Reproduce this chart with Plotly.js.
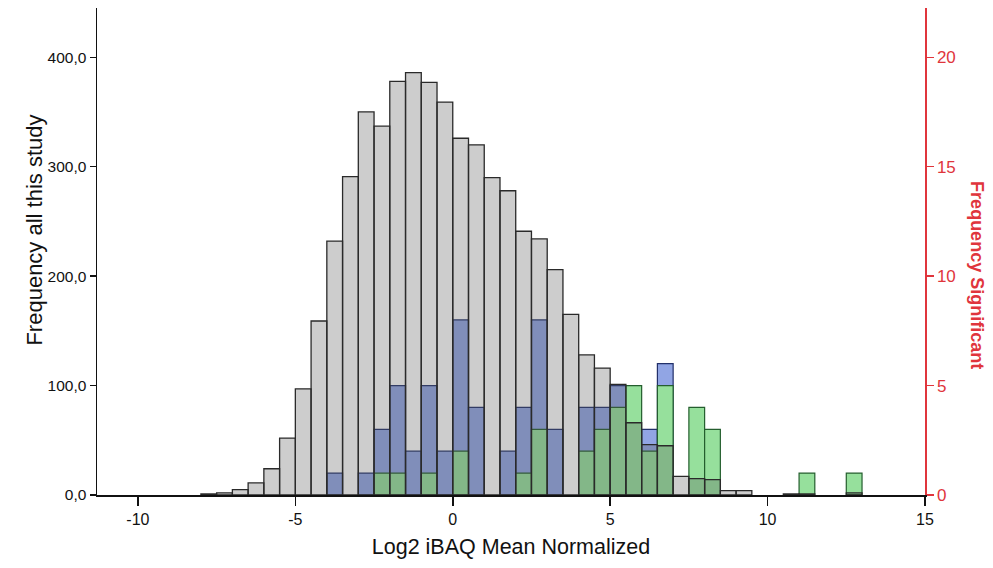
<!DOCTYPE html>
<html>
<head>
<meta charset="utf-8">
<script src="https://cdn.plot.ly/plotly-3.0.1.min.js"></script>
<style>html,body{margin:0;padding:0;background:#fff;}#chart{width:993px;height:568px;}</style>
</head>
<body>
<div id="chart"></div>
<script>
// Bin centres (bin width 0.5) on Log2 iBAQ Mean Normalized
const binCenters = [-7.75,-7.25,-6.75,-6.25,-5.75,-5.25,-4.75,-4.25,-3.75,-3.25,-2.75,-2.25,-1.75,-1.25,-0.75,-0.25,
  0.25,0.75,1.25,1.75,2.25,2.75,3.25,3.75,4.25,4.75,5.25,5.75,6.25,6.75,7.25,7.75,8.25,8.75,9.25,9.75,10.25,10.75,11.25,11.75,12.25,12.75];
// Frequency, all proteins in this study (left axis)
const freqAll = [1,2,5,11,24,52,97,159,232,291,350,337,378,386,377,359,
  326,320,290,278,241,234,206,165,128,116,101,66,46,45,17,15,14,4,4,null,null,1,1,null,null,2];
// Frequency significant, blue group (right axis)
const freqSigBlue = [null,null,null,null,null,null,null,null,1,null,1,3,5,2,5,2,
  8,4,null,2,4,8,3,null,4,4,5,null,3,6,null,null,null,null,null,null,null,null,null,null,null,null];
// Frequency significant, green group (right axis)
const freqSigGreen = [null,null,null,null,null,null,null,null,null,null,null,1,1,null,1,null,
  2,null,null,null,1,3,null,null,2,3,4,5,2,5,null,4,3,null,null,null,null,null,1,null,null,1];

const xTicks = [-10,-5,0,5,10,15];
const xTickText = ['-10','-5','0','5','10','15'];
const yTicks = [0,100,200,300,400];
const yTickText = ['0,0','100,0','200,0','300,0','400,0'];
const y2Ticks = [0,5,10,15,20];

const font = 'Liberation Sans, Arial, sans-serif';
const red = '#e0353c';

const traces = [
  {type:'bar', x:binCenters, y:freqSigBlue, width:0.5, yaxis:'y',
   marker:{color:'rgb(145,165,228)', line:{color:'#22306a', width:1.2}}, name:'blue'},
  {type:'bar', x:binCenters, y:freqSigGreen, width:0.5, yaxis:'y',
   marker:{color:'rgb(150,224,156)', line:{color:'#245e2e', width:1.2}}, name:'green'},
  {type:'bar', x:binCenters, y:freqAll, width:0.5, yaxis:'y2',
   marker:{color:'rgba(90,90,90,0.3)', line:{color:'#2a2a2a', width:1.3}}, name:'all'}
];

const layout = {
  width:993, height:568,
  margin:{l:97, r:68, t:8, b:73, pad:0},
  paper_bgcolor:'#fff', plot_bgcolor:'#fff',
  showlegend:false,
  barmode:'overlay', bargap:0,
  font:{family:font, color:'#111', size:16},
  xaxis:{range:[-11.3,15], tickvals:xTicks, ticktext:xTickText, ticks:'outside', ticklen:9, tickwidth:1.5, tickcolor:'#111',
    showline:true, linecolor:'#111', linewidth:1.5, showgrid:false, zeroline:false,
    tickfont:{size:16, family:font, color:'#111'},
    title:{text:'Log2 iBAQ Mean Normalized', font:{size:21.5, family:font, color:'#111'}, standoff:12}},
  // right axis: significant counts
  yaxis:{range:[0,22.25], side:'right', tickvals:y2Ticks, ticks:'outside', ticklen:7, tickwidth:1.5,
    tickcolor:red, showline:true, linecolor:red, linewidth:1.5, showgrid:false, zeroline:false,
    tickfont:{size:17, family:font, color:red}},
  // left axis: all proteins
  yaxis2:{range:[0,445], overlaying:'y', side:'left', tickvals:yTicks, ticktext:yTickText, ticks:'outside', ticklen:6, tickwidth:1.5, tickcolor:'#111',
    showline:true, linecolor:'#111', linewidth:1.5, showgrid:false, zeroline:false,
    tickfont:{size:15.5, family:font, color:'#111'}},
  annotations:[
    {text:'<b>Frequency Significant</b>', xref:'paper', yref:'paper', x:1.077, y:0.452,
     textangle:90, showarrow:false, font:{size:18, family:font, color:red}},
    {text:'Frequency all this study', xref:'paper', yref:'paper', x:-0.093, y:0.544,
     textangle:-90, showarrow:false, font:{size:22, family:font, color:'#111'}}
  ]
};

Plotly.newPlot('chart', traces, layout, {displayModeBar:false, staticPlot:true});
</script>
</body>
</html>
